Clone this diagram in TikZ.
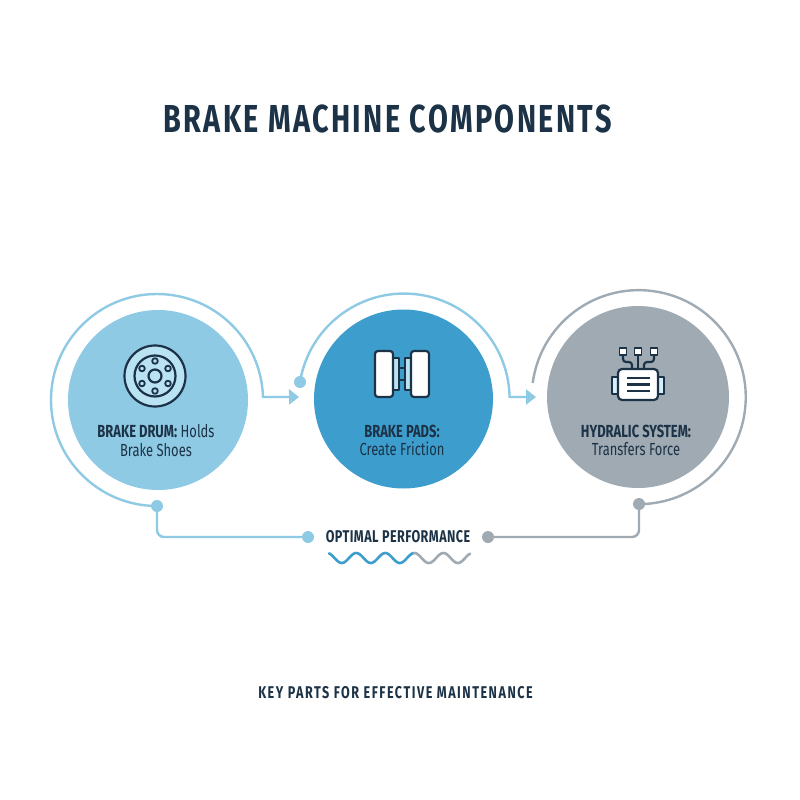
\documentclass[tikz,border=0pt]{standalone}
\usepackage{fontspec}
\setmainfont[FakeStretch=0.74]{Fira Sans}
\newcommand{\spaced}[1]{\addfontfeature{LetterSpace=#1}}
\usetikzlibrary{arrows.meta}
\definecolor{inkdark}{HTML}{1C3246}
\definecolor{drumblue}{HTML}{8FCAE5}
\definecolor{padblue}{HTML}{3D9ECD}
\definecolor{hydrgrey}{HTML}{9FAAB3}
\definecolor{drumface}{HTML}{B9E2F3}
\tikzset{
  disc/.style={circle,inner sep=0pt,minimum size=#1},
  linkline/.style={line width=2.4pt,rounded corners=7pt},
  arrowline/.style={line width=2.4pt,-{Triangle[length=10pt,width=15pt]}},
  dot/.style={circle,inner sep=0pt,minimum size=#1},
  dot/.default=12pt,
  icon/.style={draw=inkdark,line width=2.2pt,line join=round},
  label/.style={text=inkdark,align=center,font=\fontsize{17.5}{18.5}\selectfont},
}
\begin{document}
\begin{tikzpicture}[x=1pt,y=1pt]
  \fill[white] (0,0) rectangle (800,-800);
  \useasboundingbox (0,0) rectangle (800,-800);

  \node[text=inkdark,font=\fontsize{39}{42}\bfseries\spaced{6.1}] (title) at (387.5,-118.5) {BRAKE MACHINE COMPONENTS};

  % the three discs
  \node[disc=180pt,fill=drumblue] (drum) at (158,-400) {};
  \node[disc=179pt,fill=padblue] (pads) at (403.5,-399) {};
  \node[disc=182pt,fill=hydrgrey] (hydr) at (638,-397) {};

  % dots on the rings and on the lower line
  \node[dot,fill=drumblue] (drumdot) at (157,-506) {};
  \node[dot,fill=drumblue] (padsdot) at (300,-382) {};
  \node[dot,fill=hydrgrey] (hydrdot) at (639,-504) {};
  \node[dot,fill=drumblue] (perfleft) at (308,-537) {};
  \node[dot,fill=hydrgrey] (perfright) at (488,-537) {};
  \coordinate (padsin) at (299,-397);
  \coordinate (hydrin) at (536,-397);
  \coordinate (hydrstart) at (532.7,-383);

  % rings
  \draw[arrowline,draw=drumblue] (drumdot.center) arc[start angle=270,delta angle=-268.4,radius=106] -- (padsin);
  \draw[arrowline,draw=drumblue] (padsdot.center) arc[start angle=170.7,delta angle=-169.6,radius=105.5] -- (hydrin);
  \draw[line width=2.4pt,draw=hydrgrey] (hydrstart) arc[start angle=172.4,delta angle=-262,radius=107];

  % lower line
  \draw[linkline,draw=drumblue] (drumdot.center) |- (perfleft.center);
  \draw[linkline,draw=hydrgrey] (hydrdot.center) |- (perfright.center);

  \node[text=inkdark,font=\fontsize{17}{18}\bfseries\spaced{2.6}] (perf) at (398,-537) {OPTIMAL PERFORMANCE};

  \draw[line width=2.6pt,draw=padblue,line cap=round] plot[domain=329:414,samples=70] (\x,{-558-5*sin((\x-334.5)*12.4)});
  \draw[line width=2.6pt,draw=hydrgrey,line cap=round] plot[domain=414:470,samples=50] (\x,{-558-5*sin((\x-334.5)*12.4)});

  % texts in the discs
  \node[label] (drumtext) at (156,-440.5) {\textbf{BRAKE DRUM:} Holds\\Brake Shoes};
  \node[label] (padstext) at (402,-440.5) {\textbf{BRAKE PADS:}\\Create Friction};
  \node[label] (hydrtext) at (636,-440.5) {\textbf{HYDRALIC SYSTEM:}\\Transfers Force};

  \node[text=inkdark,font=\fontsize{17}{18}\bfseries\spaced{8.9}] (foot) at (395.5,-693) {KEY PARTS FOR EFFECTIVE MAINTENANCE};

  % drum icon
  \draw[icon,fill=drumface] (155,-376) circle (30.5);
  \draw[icon] (155,-376) circle (20.5);
  \draw[icon] (155,-376) circle (6.5);
  \foreach \ang in {30,90,...,330} {  %for each bolt
    \draw[icon,line width=1.8pt] (155,-376) ++(\ang:15) circle (2.8);
  }

  % pads icon
  \draw[icon] (399,-368) -- (405,-368);
  \draw[icon] (399,-380) -- (405,-380);
  \draw[icon,fill=drumface] (393,-358) rectangle (399,-390);
  \draw[icon,fill=drumface] (405,-358) rectangle (411,-390);
  \draw[icon,fill=white,rounded corners=3pt] (375,-351) rectangle (393,-397);
  \draw[icon,fill=white,rounded corners=3pt] (411,-351) rectangle (429,-397);

  % hydraulic icon
  \foreach \x in {623,638,654} {
    \draw[icon,line width=1.9pt,fill=white] (\x-3.5,-348) rectangle (\x+3.5,-355);
  }
  \draw[icon,rounded corners=3pt] (623,-355) -- (623,-362) -- (632,-362) -- (632,-369);
  \draw[icon] (638,-355) -- (638,-369);
  \draw[icon,rounded corners=3pt] (654,-355) -- (654,-362) -- (644,-362) -- (644,-369);
  \draw[icon,fill=drumface!60!white] (612,-377) rectangle (618,-394);
  \draw[icon,fill=drumface!60!white] (658,-377) rectangle (664,-394);
  \draw[icon,fill=white,rounded corners=4pt] (618,-369) rectangle (658,-400);
  \foreach \y in {-378,-384.5,-391} {
    \draw[icon] (627,\y) -- (650,\y);
  }
\end{tikzpicture}
\end{document}
